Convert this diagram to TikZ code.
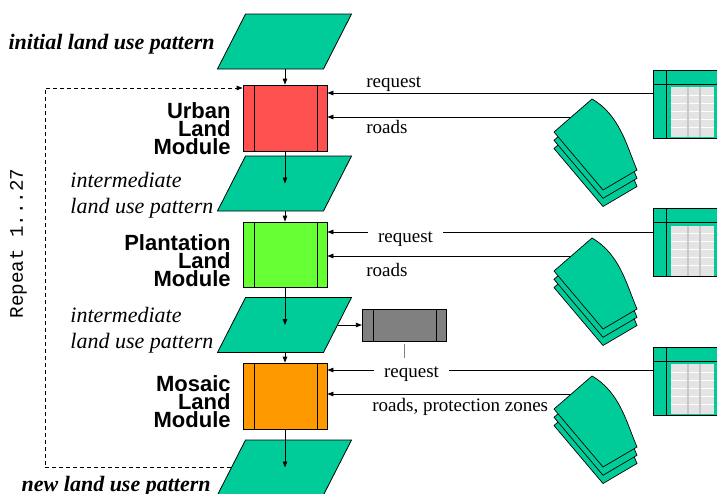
\documentclass[tikz,border=0pt]{standalone}
\usepackage{fontspec}
\setmainfont{Liberation Serif}
\setsansfont{Liberation Sans}
\setmonofont{Liberation Mono}
\usetikzlibrary{positioning, arrows.meta}

\definecolor{patterngreen}{RGB}{0,204,153}
\definecolor{urbanred}{RGB}{255,80,80}
\definecolor{plantgreen}{RGB}{102,255,51}
\definecolor{mosaicorange}{RGB}{255,153,0}
\definecolor{maskgray}{RGB}{128,128,128}
\definecolor{cellgray}{RGB}{228,228,228}

% stack of three road sheets, #1 = vertical offset, #2 = name of its attach point
\newcommand{\roadstack}[2]{%
	\begin{scope}[shift={(0,#1)}]
		\foreach \dy in {16.5,8.3,0}
			\draw[sheet, shift={(0,\dy)}] (554,132) -- (592,99)
				.. controls (620,115) and (627,147) .. (637,170) -- (603,190) -- cycle;
		\coordinate (#2) at (571,117);
	\end{scope}}

\begin{document}
\begin{tikzpicture}[x=1pt, y=-1pt, line width=0.8pt,
	landuse/.style={draw, fill=patterngreen, xslant=0.51,
		minimum width=106, minimum height=55, inner sep=0},
	modbox/.style={draw, minimum width=84, minimum height=66, inner sep=0,
		path picture={
			\draw ([xshift=11pt]path picture bounding box.north west) -- ([xshift=11pt]path picture bounding box.south west);
			\draw ([xshift=-10pt]path picture bounding box.north east) -- ([xshift=-10pt]path picture bounding box.south east);
		}},
	tablebox/.style={draw, fill=patterngreen, minimum width=70, minimum height=68, inner sep=0,
		path picture={
			\coordinate (tl) at (path picture bounding box.north west);
			\fill[cellgray] ([shift={(18pt,-17pt)}]tl) rectangle ++(43pt,-50pt);
			\foreach \ry in {25,33,41,49,57}
				\draw[white, line width=0.5pt] ([shift={(18pt,-\ry pt)}]tl) -- ++(43pt,0pt);
			\foreach \cx in {35,47}
				\draw[black!22, line width=1.5pt] ([shift={(\cx pt,-17pt)}]tl) -- ++(0pt,-50pt);
			\draw ([xshift=13pt]tl) -- ++(0pt,-68pt);
			\draw ([yshift=-14pt]tl) -- ++(70pt,0pt);
		}},
	sheet/.style={draw, fill=patterngreen, line width=0.7pt},
	modlabel/.style={font=\sffamily\bfseries\fontsize{22}{18}\selectfont, align=right, inner sep=0},
	patlabel/.style={font=\itshape\fontsize{22}{26}\selectfont, align=left, inner sep=0},
	keylabel/.style={font=\bfseries\itshape\fontsize{22}{26}\selectfont, inner sep=0},
	feedlabel/.style={font=\fontsize{19}{22}\selectfont, inner sep=0},
	gaplabel/.style={feedlabel, fill=white, inner xsep=10pt, inner ysep=4pt},
	flow/.style={-{Triangle[length=6pt,width=4.5pt]}},
	feed/.style={flow},
	loopline/.style={flow, dash pattern=on 4pt off 3pt}]

	\path[use as bounding box, fill=white] (0,0) rectangle (717,493);

	% land use patterns and modules
	\node[landuse] (p1) at (284.5,41.5) {};
	\node[modbox, fill=urbanred] (urban) at (285,118) {};
	\node[landuse] (p2) at (284.5,183.5) {};
	\node[modbox, fill=plantgreen, minimum height=65] (plant) at (285,254.5) {};
	\node[landuse] (p3) at (284.5,325) {};
	\node[modbox, fill=mosaicorange] (mosaic) at (285,396) {};
	\node[landuse] (p4) at (284.5,467.5) {};
	\node[modbox, fill=maskgray, minimum height=32, right=24pt of p3] (mask) {};

	\node[keylabel, anchor=base east] (initlbl) at (215,49) {initial land use pattern};
	\node[patlabel, anchor=base west] (mid1) at (70,213) {intermediate\\land use pattern};
	\node[patlabel, anchor=base west] (mid2) at (70,348) {intermediate\\land use pattern};
	\node[keylabel, anchor=base east] (newlbl) at (211,491) {new land use pattern};

	\node[modlabel, anchor=base east] (urbanlbl) at (231,154) {Urban\\Land\\Module};
	\node[modlabel, anchor=base east] (plantlbl) at (231,286) {Plantation\\Land\\Module};
	\node[modlabel, anchor=base east] (mosaiclbl) at (231,427) {Mosaic\\Land\\Module};

	\node[font=\ttfamily\fontsize{19.2}{20}\selectfont, rotate=90, anchor=base, inner sep=0] (repeat) at (23,243.5) {Repeat 1...27};

	% data sources
	\node[tablebox] (tab1) at (688,104) {};
	\node[tablebox] (tab2) at (688,242.5) {};
	\node[tablebox] (tab3) at (688,381) {};
	\roadstack{0}{roads1}
	\roadstack{139}{roads2}
	\roadstack{277}{roads3}
	\coordinate (req1) at ([yshift=11pt]tab1.west);
	\coordinate (req2) at ([yshift=10.5pt]tab2.west);
	\coordinate (req3) at ([yshift=11pt]tab3.west);
	\coordinate (loopx) at (45,88);

	% connectors
	\draw[flow] (p1.south -| urban.north) -- (urban.north);
	\draw[flow] (urban.south) -- (urban.south |- p2.center);
	\draw[flow] (p2.south -| plant.north) -- (plant.north);
	\draw[flow] (plant.south) -- (plant.south |- p3.center);
	\draw[flow] (p3.south -| mosaic.north) -- (mosaic.north);
	\draw[flow] (mosaic.south) -- (mosaic.south |- p4.center);
	\draw[flow] (p3.east) -- (mask.west);
	\draw[loopline] (p4.west) -| (loopx) -- (loopx -| urban.west);

	\draw[feed] (req1) -- (req1 -| urban.east);
	\draw[feed] (roads1) -- (roads1 -| urban.east);
	\draw[feed] (req2) -- (req2 -| plant.east);
	\draw[feed] (roads2) -- (roads2 -| plant.east);
	\draw[feed] (req3) -- (req3 -| mosaic.east);
	\draw[feed] (roads3) -- (roads3 -| mosaic.east);

	\node[feedlabel, anchor=base west] (reqlbl1) at (366,87.5) {request};
	\node[feedlabel, anchor=base west] (roadlbl1) at (366,133) {roads};
	\node[gaplabel, anchor=base] (reqlbl2) at (405.5,242.5) {request};
	\node[feedlabel, anchor=base west] (roadlbl2) at (366,276) {roads};
	\node[gaplabel, anchor=base] (reqlbl3) at (411.5,377) {request};
	\node[feedlabel, anchor=base west] (roadlbl3) at (372,411) {roads, protection zones};
	\draw[maskgray] ([yshift=-3pt]mask.south) -- ([yshift=4pt]reqlbl3.north -| mask.south);
\end{tikzpicture}
\end{document}
